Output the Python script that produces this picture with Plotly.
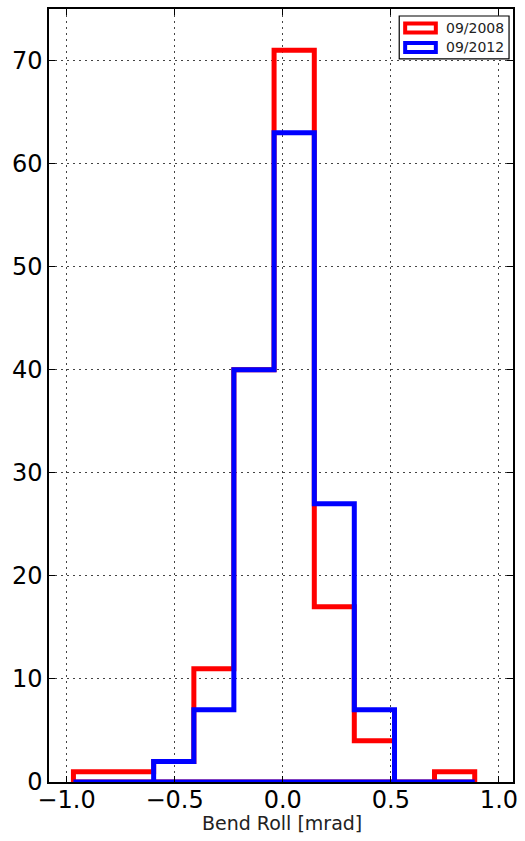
import plotly.graph_objects as go

# ---- data ----
bin_edges = [-0.968, -0.782, -0.597, -0.411, -0.226, -0.040, 0.146, 0.331, 0.517, 0.702, 0.888]
counts_2008 = [1, 1, 2, 11, 40, 71, 17, 4, 0, 1]
counts_2012 = [0, 0, 2, 7, 40, 63, 27, 7, 0, 0]
series_names = ["09/2008", "09/2012"]
series_colors = ["#ff0000", "#0000ff"]
x_ticks = [-1.0, -0.5, 0.0, 0.5, 1.0]
y_ticks = [0, 10, 20, 30, 40, 50, 60, 70]
x_label = "Bend Roll [mrad]"


def step_outline(edges, counts):
    """Closed step-histogram outline (matplotlib histtype='step' style)."""
    xs = [edges[0]]
    ys = [0]
    for i, c in enumerate(counts):
        xs += [edges[i], edges[i + 1]]
        ys += [c, c]
    xs += [edges[-1], edges[0]]
    ys += [0, 0]
    return xs, ys


fig = go.Figure()
for name, counts, color in zip(series_names, [counts_2008, counts_2012], series_colors):
    xs, ys = step_outline(bin_edges, counts)
    fig.add_trace(go.Scatter(x=xs, y=ys, mode="lines", name=name,
                             line=dict(color=color, width=5),
                             showlegend=False, hoverinfo="skip"))

W, H = 525, 841
ML, MR, MT, MB = 49, 7, 8, 59
PW, PH = W - ML - MR, H - MT - MB


def px(x):
    return (x - ML) / PW


def py(y):
    return (H - MB - y) / PH


shapes = []
annotations = []
# legend box
shapes.append(dict(type="rect", xref="paper", yref="paper",
                   x0=px(403), x1=px(514), y0=py(58), y1=py(15),
                   line=dict(color="black", width=1.2), fillcolor="white", layer="above"))
for i, (name, color) in enumerate(zip(series_names, series_colors)):
    yc = 27 + i * 19.5
    shapes.append(dict(type="rect", xref="paper", yref="paper",
                       x0=px(409), x1=px(440), y0=py(yc + 4.5), y1=py(yc - 4.5),
                       line=dict(color=color, width=4), fillcolor="white", layer="above"))
    annotations.append(dict(xref="paper", yref="paper", x=px(448), y=py(yc),
                            xanchor="left", yanchor="middle", showarrow=False,
                            text=name, font=dict(size=14, color="#222222", family="DejaVu Sans")))
# x-axis title
annotations.append(dict(xref="paper", yref="paper", x=px(285), y=py(823),
                        xanchor="center", yanchor="middle", showarrow=False,
                        text=x_label, font=dict(size=19, color="#222222", family="DejaVu Sans")))

fig.update_layout(
    width=W, height=H,
    margin=dict(l=ML, r=MR, t=MT, b=MB),
    paper_bgcolor="white", plot_bgcolor="white",
    font=dict(family="DejaVu Sans", color="black", size=24),
    shapes=shapes, annotations=annotations,
    showlegend=False,
)
fig.update_xaxes(
    range=[-1.081, 1.065], tickvals=x_ticks, tickformat=".1f",
    showline=True, linecolor="black", linewidth=1.5, mirror="ticks",
    ticks="inside", ticklen=6, tickcolor="black", tickwidth=1,
    showgrid=True, gridcolor="#444444", gridwidth=1, griddash="2px,4px",
    zeroline=False, tickfont=dict(size=24), ticklabelstandoff=-5,
)
fig.update_yaxes(
    range=[0, 75], tickvals=y_ticks,
    showline=True, linecolor="black", linewidth=1.5, mirror="ticks",
    ticks="inside", ticklen=6, tickcolor="black", tickwidth=1,
    showgrid=True, gridcolor="#444444", gridwidth=1, griddash="2px,4px",
    zeroline=False, tickfont=dict(size=24),
)

fig.write_html(
    "out.html",
    config={"displayModeBar": False},
    post_script="document.body.style.margin='0';document.body.style.overflow='hidden';",
)
